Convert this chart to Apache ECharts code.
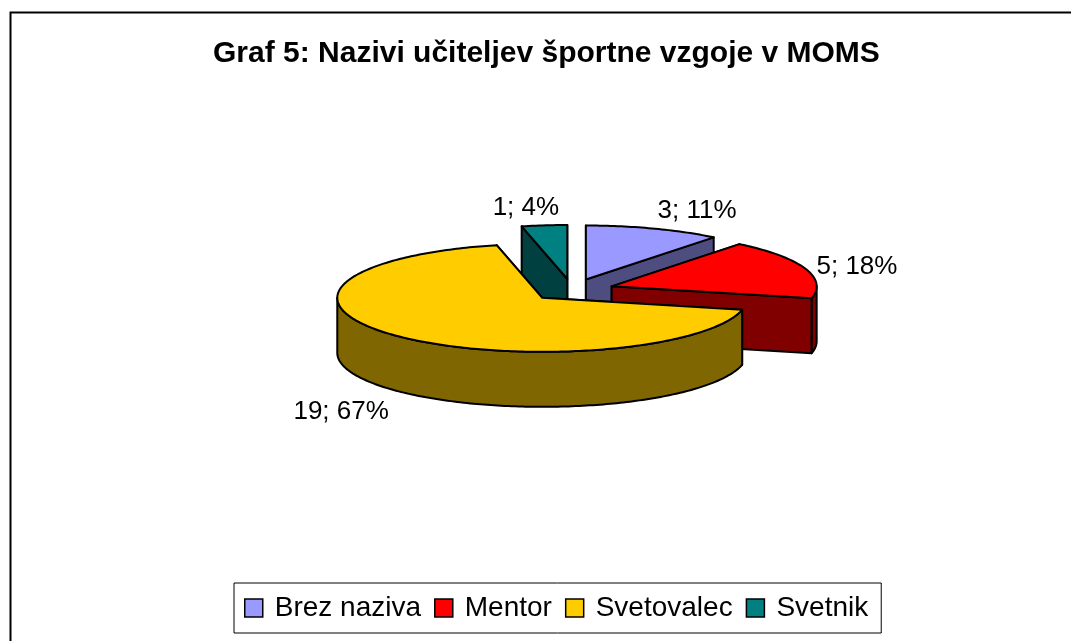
<!DOCTYPE html>
<html>
<head>
<meta charset="utf-8">
<script src="https://cdn.jsdelivr.net/npm/echarts@6/dist/echarts.min.js"></script>
<style>
  html, body { margin: 0; padding: 0; background: #fff; }
  #chart { width: 1071px; height: 641px; }
</style>
</head>
<body>
<div id="chart"></div>
<script>
const categories = ['Brez naziva', 'Mentor', 'Svetovalec', 'Svetnik'];
const counts = [3, 5, 19, 1];
const percents = [11, 18, 67, 4];

const topColors = ['#9999FF', '#FF0000', '#FFCC00', '#008080'];
const sideColors = ['#4D4D80', '#800000', '#806600', '#004040'];

const FONT = '"Liberation Sans", Arial, sans-serif';
const LABEL_SIZE = 26;

// flat 3d pie geometry
const cx = 572, cy = 290, rx = 205, ry = 54, depth = 55, explode = 0.205;
const total = counts.reduce((a, b) => a + b, 0);

// slices start at 12 o'clock and go clockwise
let acc = 0;
const slices = counts.map(function (v) {
  const a0 = Math.PI / 2 - acc / total * 2 * Math.PI;
  acc += v;
  const a1 = Math.PI / 2 - acc / total * 2 * Math.PI;
  const mid = (a0 + a1) / 2;
  return {
    a0: a0, a1: a1, mid: mid,
    ox: cx + explode * rx * Math.cos(mid),
    oy: cy - explode * ry * Math.sin(mid)
  };
});
// back slices are drawn first
const rank = slices.map((s, i) => i).sort((a, b) => slices[a].oy - slices[b].oy);

const measureCtx = document.createElement('canvas').getContext('2d');
function textWidth(t) {
  measureCtx.font = LABEL_SIZE + 'px ' + FONT;
  return measureCtx.measureText(t).width;
}

function pt(s, a, down) {
  return [s.ox + rx * Math.cos(a), s.oy - ry * Math.sin(a) + (down ? depth : 0)];
}

function makeRender(i) {
  return function (params, api) {
    const s = slices[i];
    const base = rank.indexOf(i) * 10;
    const line = { stroke: '#000', lineWidth: 2, lineJoin: 'round' };
    const children = [];
    const apex = [s.ox, s.oy];
    const apexD = [s.ox, s.oy + depth];

    // sample angles from a0 down to a1, with the wall edges at 0 and -pi
    let angs = [];
    const n = Math.max(4, Math.ceil((s.a0 - s.a1) / (Math.PI / 180)));
    for (let k = 0; k <= n; k++) angs.push(s.a0 - (s.a0 - s.a1) * k / n);
    [0, -Math.PI, -2 * Math.PI].forEach(function (b) {
      if (b < s.a0 && b > s.a1) angs.push(b);
    });
    angs.sort((a, b) => b - a);

    function cutFace(a, z) {
      children.push({
        type: 'polygon', z2: base + z,
        shape: { points: [apex, pt(s, a, false), pt(s, a, true), apexD] },
        style: Object.assign({ fill: sideColors[i] }, line)
      });
    }
    // cut faces: visible when they turn towards the viewer
    const startFront = Math.cos(s.a0) < -1e-6;
    const endFront = Math.cos(s.a1) > 1e-6;
    if (!startFront) cutFace(s.a0, 1);
    if (!endFront) cutFace(s.a1, 1);

    // outer wall, front half only
    let run = [];
    function flush() {
      if (run.length > 1) {
        const topPts = run.map(a => pt(s, a, false));
        const botPts = run.map(a => pt(s, a, true)).reverse();
        children.push({
          type: 'polygon', z2: base + 2,
          shape: { points: topPts.concat(botPts) },
          style: Object.assign({ fill: sideColors[i] }, line)
        });
      }
      run = [];
    }
    for (let k = 0; k < angs.length; k++) {
      if (Math.sin(angs[k]) <= 1e-6) run.push(angs[k]);
      else flush();
    }
    flush();

    if (startFront) cutFace(s.a0, 3);
    if (endFront) cutFace(s.a1, 3);

    // top face
    children.push({
      type: 'polygon', z2: base + 4,
      shape: { points: [apex].concat(angs.map(a => pt(s, a, false))) },
      style: Object.assign({ fill: topColors[i] }, line)
    });

    // data label outside the slice
    const c = Math.cos(s.mid), sn = Math.sin(s.mid);
    const o = pt(s, s.mid, sn < 0);
    const txt = api.value(0) + '; ' + percents[i] + '%';
    const w = textWidth(txt);
    const f = Math.min(1, Math.max(0, 0.5 - 2.3 * c));
    children.push({
      type: 'text', z2: 100,
      style: {
        text: txt,
        x: o[0] + 12 * c - f * w,
        y: sn > 0.5 ? o[1] - 5 : (sn < -0.5 ? o[1] + 8 : o[1] - 4 * sn),
        fill: '#000',
        fontSize: LABEL_SIZE,
        fontFamily: FONT,
        align: 'left',
        verticalAlign: sn > 0.5 ? 'bottom' : (sn < -0.5 ? 'top' : 'middle')
      }
    });

    return { type: 'group', children: children };
  };
}

const chart = echarts.init(document.getElementById('chart'), null, { renderer: 'canvas' });

chart.setOption({
  animation: false,
  backgroundColor: '#fff',
  title: {
    text: 'Graf 5: Nazivi učiteljev športne vzgoje v MOMS',
    left: 213,
    top: 39,
    padding: 0,
    textStyle: { fontSize: 30, fontWeight: 'bold', fontFamily: FONT, color: '#000' }
  },
  graphic: [{
    type: 'rect',
    left: 8, top: 10,
    shape: { width: 1100, height: 700 },
    style: { fill: 'none', stroke: '#000', lineWidth: 2 },
    silent: true
  }],
  legend: {
    data: categories,
    left: 234,
    top: 583,
    icon: 'rect',
    itemWidth: 18,
    itemHeight: 18,
    itemGap: 13,
    padding: [11, 13, 11, 10],
    borderColor: '#000',
    borderWidth: 1,
    backgroundColor: '#fff',
    selectedMode: false,
    itemStyle: { borderColor: '#000', borderWidth: 1.5 },
    textStyle: { fontSize: 28, fontFamily: FONT, color: '#000', padding: [0, 0, 0, 7] }
  },
  series: categories.map(function (name, i) {
    return {
      type: 'custom',
      name: name,
      coordinateSystem: 'none',
      silent: true,
      itemStyle: { color: topColors[i] },
      data: [[counts[i]]],
      renderItem: makeRender(i)
    };
  })
});
</script>
</body>
</html>
